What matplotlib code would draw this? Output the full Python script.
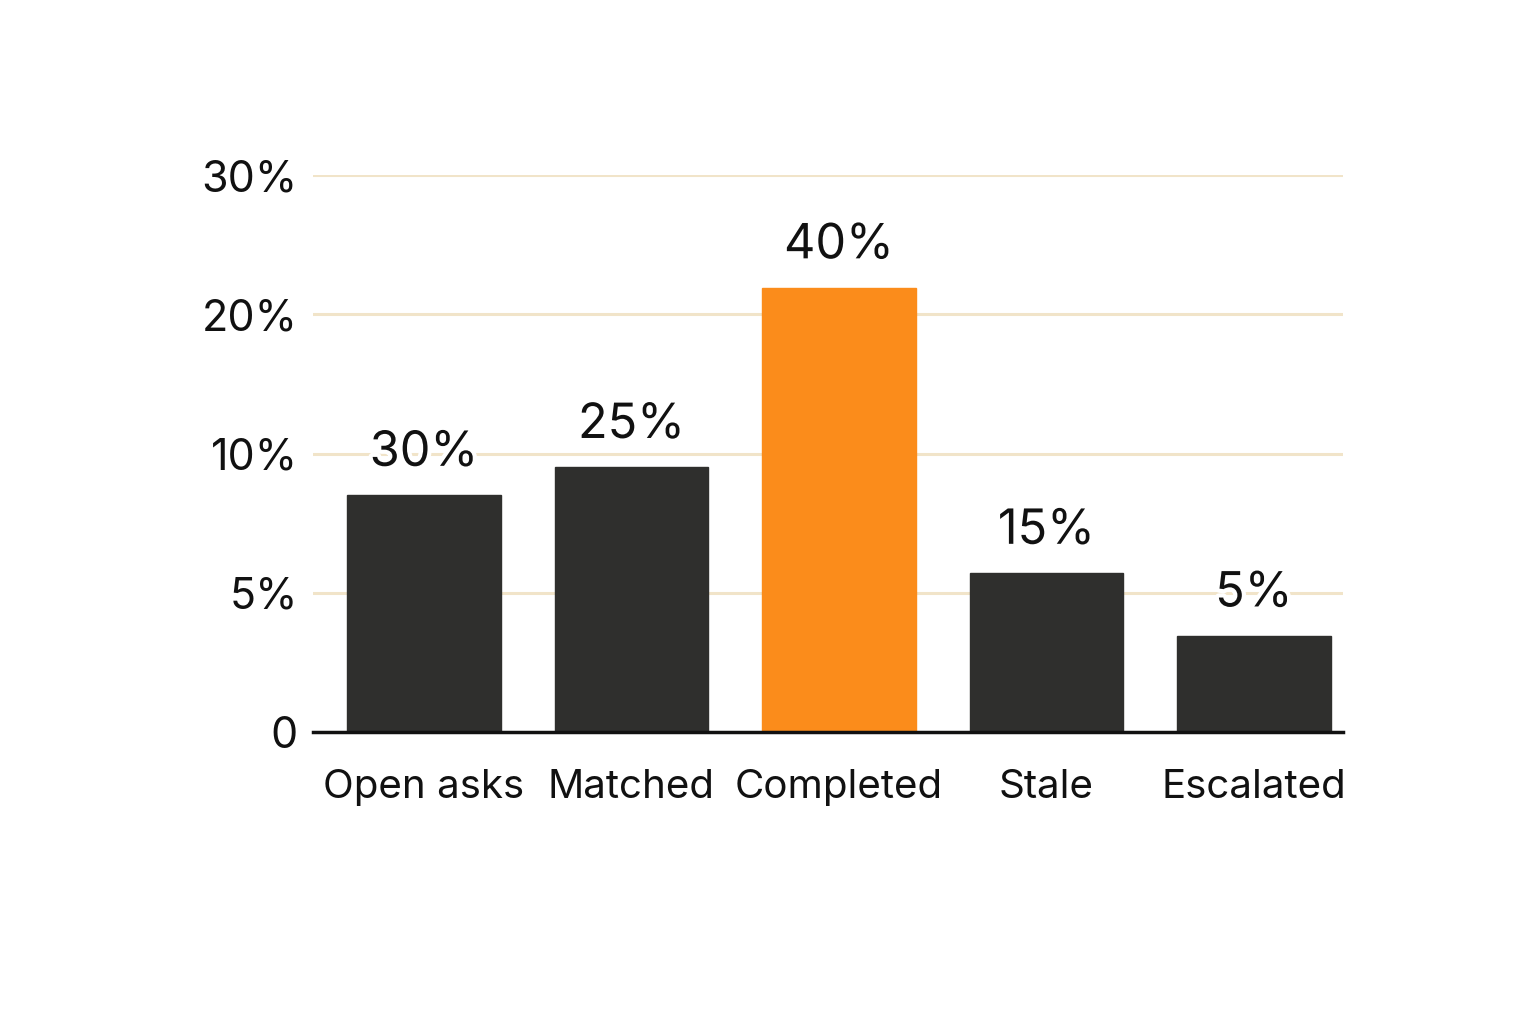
import numpy as np
import matplotlib.pyplot as plt
import matplotlib.patheffects as pe

# data
categories = ['Open asks', 'Matched', 'Completed', 'Stale', 'Escalated']
bar_heights = [8.5, 9.5, 21.9, 5.7, 3.45]      # position on the (uneven) y axis, in %
value_labels = ['30%', '25%', '40%', '15%', '5%']
y_ticks = [0, 5, 10, 20, 30]
y_tick_labels = ['0', '5%', '10%', '20%', '30%']
highlight = 'Completed'

plt.rcParams['font.family'] = ['Inter', 'DejaVu Sans']

fig = plt.figure(figsize=(15.36, 10.24), dpi=100)
ax = fig.add_axes([313 / 1536, 292 / 1024, 1030 / 1536, 557 / 1024])

# y axis ticks are evenly spaced although their values are not
tick_pos = np.arange(len(y_ticks), dtype=float)
def forward(v):
    return np.interp(v, y_ticks, tick_pos)
def inverse(p):
    return np.interp(p, tick_pos, y_ticks)
ax.set_yscale('function', functions=(forward, inverse))

x = np.arange(len(categories))
colors = ['#fb8c1b' if c == highlight else '#2f2f2d' for c in categories]
ax.bar(x, bar_heights, width=0.74, color=colors, edgecolor=colors, linewidth=1, zorder=3)

halo = [pe.withStroke(linewidth=6, foreground='white')]
for xi, h, lab in zip(x, bar_heights, value_labels):
    ax.annotate(lab, (xi, h), xytext=(0, 14), textcoords='offset points',
                ha='center', va='bottom', fontsize=35, color='#111111',
                path_effects=halo, zorder=5)

ax.set_xlim(-0.535, 4.43)
ax.set_ylim(0, 30)
ax.set_yticks(y_ticks)
ax.set_yticklabels(y_tick_labels)
ax.set_xticks(x)
ax.set_xticklabels(categories)
ax.tick_params(axis='y', length=0, pad=11, labelsize=31, labelcolor='#111111')
ax.tick_params(axis='x', length=0, pad=27, labelsize=29, labelcolor='#111111')
ax.minorticks_off()

ax.grid(axis='y', color='#f1e4c9', linewidth=2.2, zorder=0)
for s in ['top', 'right', 'left']:
    ax.spines[s].set_visible(False)
ax.spines['bottom'].set_color('#111111')
ax.spines['bottom'].set_linewidth(2.5)
ax.spines['bottom'].set_zorder(4)

fig.savefig('out.png', dpi=100, facecolor='white')
